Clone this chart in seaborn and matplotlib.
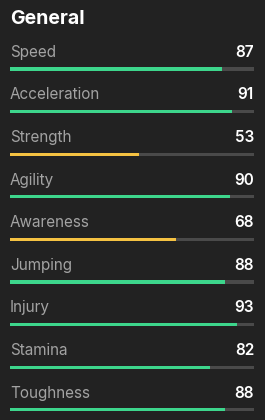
import matplotlib
matplotlib.use("Agg")
import matplotlib.pyplot as plt
import seaborn as sns
import pandas as pd

attributes = ["Speed", "Acceleration", "Strength", "Agility", "Awareness",
              "Jumping", "Injury", "Stamina", "Toughness"]
values = [87, 91, 53, 90, 68, 88, 93, 82, 88]
max_value = 100
title = "General"

BG = "#222222"
GREEN = "#3dd68c"
YELLOW = "#f5c242"
TRACK = "#4a4a4a"
LABEL = "#a3a3a3"

sns.set_theme(style="white")
plt.rcParams["font.family"] = ["Inter", "DejaVu Sans"]

df = pd.DataFrame({
    "attr": attributes,
    "value": values,
    "track": [max_value] * len(values),
    "tier": ["high" if v >= 70 else "mid" for v in values],
})

fig = plt.figure(figsize=(2.65, 4.2), dpi=100, facecolor=BG)
ax = fig.add_axes([10 / 265, 1 - 418.3 / 420, 244 / 265, (418.3 - 17.9) / 420])
ax.set_facecolor(BG)

sns.barplot(data=df, y="attr", x="track", orient="h", color=TRACK,
            width=0.075, ax=ax, saturation=1, linewidth=0, edgecolor="none")
sns.barplot(data=df, y="attr", x="value", orient="h", hue="tier",
            palette={"high": GREEN, "mid": YELLOW}, width=0.075, ax=ax,
            saturation=1, legend=False, dodge=False, linewidth=0,
            edgecolor="none")

ax.set_xlim(0, max_value)
ax.set_ylim(8.2, -1.2)
ax.axis("off")

for i, (a, v) in enumerate(zip(attributes, values)):
    ax.text(0, i - 0.285, a, color=LABEL, fontsize=11, va="baseline", ha="left")
    ax.text(max_value, i - 0.285, str(v), color="white", fontsize=11,
            fontweight="semibold", va="baseline", ha="right")

fig.text(10 / 265, 1 - 24 / 420, title, color="white", fontsize=14,
         fontweight="bold", va="baseline", ha="left")

fig.savefig("out.png", dpi=100, facecolor=BG)
